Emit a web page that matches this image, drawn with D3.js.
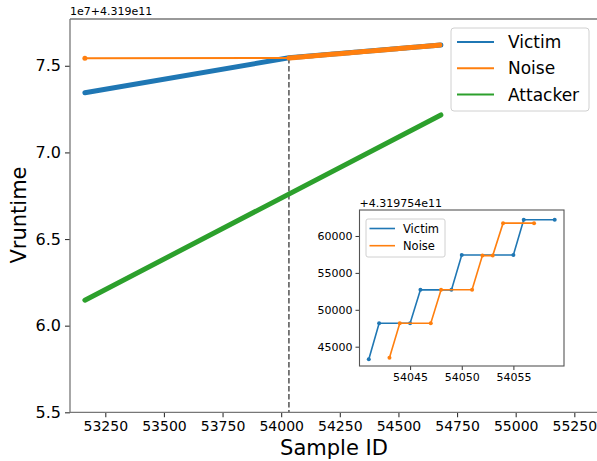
<!DOCTYPE html>
<html>
<head>
<meta charset="utf-8">
<script src="https://cdn.jsdelivr.net/npm/d3@7"></script>
<style>
  body { margin: 0; background: #fff; }
  text { font-family: "DejaVu Sans", sans-serif; fill: #000; }
</style>
</head>
<body>
<svg id="chart" width="597" height="461"></svg>
<script>
// main chart, y in units of 1e7 above 4.319e11
var victimMain = [[53163, 7.344], [54033, 7.546], [54681, 7.62]];
var noiseFlat = [[53163, 7.543], [54033, 7.545]];
var noiseMain = [[54033, 7.545], [54681, 7.62]];
var attackerMain = [[53163, 6.147], [54681, 7.216]];
var splitId = 54033;
var xTicks = [53250, 53500, 53750, 54000, 54250, 54500, 54750, 55000, 55250];
var yTicks = [5.5, 6.0, 6.5, 7.0, 7.5];

// inset, y offset by 4.319754e11
var victimInset = [[54041, 43290], [54042, 48170], [54045, 48170], [54046, 52700], [54049, 52700],
  [54050, 57420], [54055, 57420], [54056, 62200], [54059, 62200]];
var noiseInset = [[54043, 43510], [54044, 48170], [54047, 48170], [54048, 52720], [54051, 52720],
  [54052, 57340], [54053, 57340], [54054, 61740], [54057, 61740]];
var insetXTicks = [54045, 54050, 54055];
var insetYTicks = [45000, 50000, 55000, 60000];

var blue = "#1f77b4", orange = "#ff7f0e", green = "#2ca02c";
var svg = d3.select("#chart");

var x = d3.scaleLinear().domain([53099.5, 55351]).range([70, 598]);
var y = d3.scaleLinear().domain([5.5, 7.77]).range([412.3, 19]);
var line = d3.line().x(d => x(d[0])).y(d => y(d[1]));

var main = svg.append("g");

// dashed split marker
main.append("line")
    .attr("x1", x(splitId)).attr("x2", x(splitId))
    .attr("y1", y(7.545)).attr("y2", 412)
    .attr("stroke", "#666").attr("stroke-width", 1.7)
    .attr("stroke-dasharray", "5.5,2.5");

main.append("path").datum(victimMain).attr("d", line)
    .attr("fill", "none").attr("stroke", blue).attr("stroke-width", 5)
    .attr("stroke-linecap", "round");
main.append("path").datum(noiseFlat).attr("d", line)
    .attr("fill", "none").attr("stroke", orange).attr("stroke-width", 2);
main.append("circle").attr("cx", x(noiseFlat[0][0])).attr("cy", y(noiseFlat[0][1]))
    .attr("r", 2.5).attr("fill", orange);
main.append("path").datum(noiseMain).attr("d", line)
    .attr("fill", "none").attr("stroke", orange).attr("stroke-width", 5)
    .attr("stroke-linecap", "round").attr("stroke-dasharray", "7,1.5");
main.append("path").datum(attackerMain).attr("d", line)
    .attr("fill", "none").attr("stroke", green).attr("stroke-width", 5)
    .attr("stroke-linecap", "round");

// axes
var xAxis = main.append("g").attr("transform", "translate(0,412.3)")
    .call(d3.axisBottom(x).tickValues(xTicks).tickSize(5).tickPadding(4).tickFormat(d3.format("d")));
xAxis.selectAll("text").style("font-size", "14px");
var yAxis = main.append("g").attr("transform", "translate(70,0)")
    .call(d3.axisLeft(y).tickValues(yTicks).tickSize(5).tickPadding(4).tickFormat(d3.format(".1f")));
yAxis.selectAll("text").style("font-size", "16px");
[xAxis, yAxis].forEach(a => {
  a.select(".domain").remove();
  a.selectAll("line").attr("stroke", "#333").attr("stroke-width", 1.1);
});
main.append("line").attr("x1", 70).attr("x2", 70).attr("y1", 19).attr("y2", 412.3)
    .attr("stroke", "#777").attr("stroke-width", 1.3);
main.append("line").attr("x1", 70).attr("x2", 598).attr("y1", 412.3).attr("y2", 412.3)
    .attr("stroke", "#777").attr("stroke-width", 1.3);
main.append("line").attr("x1", 70).attr("x2", 598).attr("y1", 19).attr("y2", 19)
    .attr("stroke", "#777").attr("stroke-width", 1.3);

main.append("text").attr("x", 70).attr("y", 15).style("font-size", "11px").text("1e7+4.319e11");
main.append("text").attr("x", 334).attr("y", 455).attr("text-anchor", "middle")
    .style("font-size", "21px").text("Sample ID");
main.append("text").attr("transform", "translate(26,215) rotate(-90)").attr("text-anchor", "middle")
    .style("font-size", "21px").text("Vruntime");

// main legend
var legendItems = [["Victim", blue], ["Noise", orange], ["Attacker", green]];
var lg = main.append("g");
lg.append("rect").attr("x", 451).attr("y", 28).attr("width", 138).attr("height", 83).attr("rx", 3)
    .attr("fill", "#fff").attr("fill-opacity", 0.8).attr("stroke", "#d0d0d0");
legendItems.forEach((d, i) => {
  var cy = 42 + i * 26.3;
  lg.append("line").attr("x1", 457).attr("x2", 494).attr("y1", cy).attr("y2", cy)
      .attr("stroke", d[1]).attr("stroke-width", 2);
  lg.append("text").attr("x", 508).attr("y", cy).attr("dy", "0.36em")
      .style("font-size", "17px").text(d[0]);
});

// inset
var ix = d3.scaleLinear().domain([54040.1, 54059.9]).range([359.5, 564]);
var iy = d3.scaleLinear().domain([42385, 63520]).range([366, 210]);
var iline = d3.line().x(d => ix(d[0])).y(d => iy(d[1]));
var inset = svg.append("g");
inset.append("rect").attr("x", 359.5).attr("y", 210).attr("width", 204.5).attr("height", 156)
    .attr("fill", "#fff");

[[victimInset, blue], [noiseInset, orange]].forEach(s => {
  inset.append("path").datum(s[0]).attr("d", iline)
      .attr("fill", "none").attr("stroke", s[1]).attr("stroke-width", 1.6);
  inset.selectAll(null).data(s[0]).enter().append("circle")
      .attr("cx", d => ix(d[0])).attr("cy", d => iy(d[1])).attr("r", 2).attr("fill", s[1]);
});

var ixAxis = inset.append("g").attr("transform", "translate(0,366)")
    .call(d3.axisBottom(ix).tickValues(insetXTicks).tickSize(4).tickPadding(3).tickFormat(d3.format("d")));
var iyAxis = inset.append("g").attr("transform", "translate(359.5,0)")
    .call(d3.axisLeft(iy).tickValues(insetYTicks).tickSize(4).tickPadding(3).tickFormat(d3.format("d")));
[ixAxis, iyAxis].forEach(a => {
  a.select(".domain").remove();
  a.selectAll("line").attr("stroke", "#333");
  a.selectAll("text").style("font-size", "11px");
});
inset.append("rect").attr("x", 359.5).attr("y", 210).attr("width", 204.5).attr("height", 156)
    .attr("fill", "none").attr("stroke", "#555").attr("stroke-width", 1.1);
inset.append("text").attr("x", 359.5).attr("y", 207).style("font-size", "11px").text("+4.319754e11");

var il = inset.append("g");
il.append("rect").attr("x", 366).attr("y", 219).attr("width", 79).attr("height", 38).attr("rx", 2)
    .attr("fill", "#fff").attr("stroke", "#d0d0d0");
[["Victim", blue], ["Noise", orange]].forEach((d, i) => {
  var cy = 228.5 + i * 17.2;
  il.append("line").attr("x1", 369.5).attr("x2", 395).attr("y1", cy).attr("y2", cy)
      .attr("stroke", d[1]).attr("stroke-width", 1.6);
  il.append("text").attr("x", 403).attr("y", cy).attr("dy", "0.36em")
      .style("font-size", "11.5px").text(d[0]);
});
</script>
</body>
</html>
